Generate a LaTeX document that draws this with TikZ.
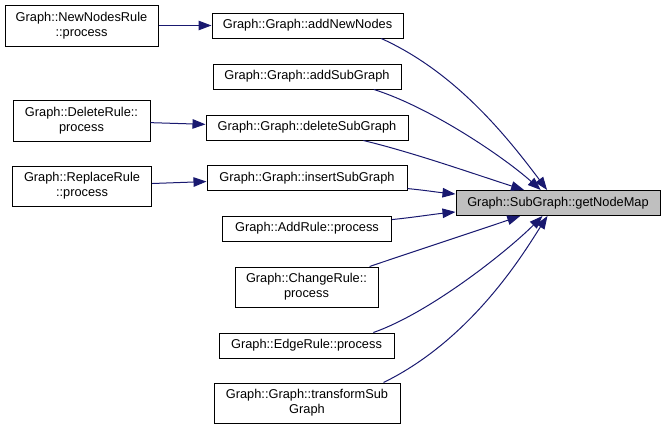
\documentclass[tikz,border=0pt]{standalone}
\usepackage{fontspec}
\setmainfont{Liberation Sans}
\usepackage{tikz}
\usetikzlibrary{arrows.meta}
\definecolor{edgeBlue}{HTML}{191970}
\definecolor{targetGray}{HTML}{BFBFBF}

\begin{document}
\begin{tikzpicture}[
    x=1pt, y=-1pt,
    fn/.style={rectangle, draw=black, line width=1pt, fill=white, align=center, inner sep=0pt, minimum height=25pt, font=\fontsize{12.8}{15}\selectfont},
    target/.style={fn, fill=targetGray},
    call/.style={-{Triangle[length=13pt, width=9.5pt]}, line width=1pt, edgeBlue}
]
\useasboundingbox (0,0) rectangle (665,431);

% Called function
\node[target, minimum width=204pt] (getmap) at (558,203) {Graph::SubGraph::getNodeMap};

% Direct callers
\node[fn, minimum width=191pt] (addnew) at (307.5,25.5) {Graph::Graph::addNewNodes};
\node[fn, minimum width=188pt] (addsub) at (307,76.5) {Graph::Graph::addSubGraph};
\node[fn, minimum width=202pt] (delsub) at (307,127.5) {Graph::Graph::deleteSubGraph};
\node[fn, minimum width=200pt] (inssub) at (307,178) {Graph::Graph::insertSubGraph};
\node[fn, minimum width=169pt] (addrule) at (307,228.5) {Graph::AddRule::process};
\node[fn, minimum width=143pt, minimum height=40pt] (changerule) at (306.5,287) {Graph::ChangeRule::\\process};
\node[fn, minimum width=175pt] (edgerule) at (306.5,345.5) {Graph::EdgeRule::process};
\node[fn, minimum width=186pt, minimum height=40pt] (transform) at (307,403) {Graph::Graph::transformSub\\Graph};

% Second level callers
\node[fn, minimum width=153pt, minimum height=41pt] (newnodes) at (81.5,25.5) {Graph::NewNodesRule\\::process};
\node[fn, minimum width=137pt, minimum height=41pt] (delrule) at (81.5,120.5) {Graph::DeleteRule::\\process};
\node[fn, minimum width=139pt, minimum height=40pt] (replrule) at (82,186) {Graph::ReplaceRule\\::process};

% Arrows
\draw[call] (newnodes) -- (addnew);
\draw[call] (delrule) -- (delsub);
\draw[call] (replrule) -- (inssub);
\draw[call] (addnew.-10) .. controls +(73,33) and +(-42,-56) .. (getmap.130);
\draw[call] (addsub.-11) .. controls +(57,18) and +(-37,-33) .. (getmap.143);
\draw[call] (delsub.-13) .. controls +(50,12) and +(-50,-16) .. (getmap.159);
\draw[call] (inssub.-6) .. controls +(20,2) and +(-20,-2) .. (getmap.175);
\draw[call] (addrule.6) .. controls +(20,-2) and +(-20,2) .. (getmap.185);
\draw[call] (changerule.18) .. controls +(50,-17) and +(-50,17) .. (getmap.199);
\draw[call] (edgerule.11) .. controls +(57,-20) and +(-35,35) .. (getmap.220);
\draw[call] (transform.15) .. controls +(90,-44) and +(-22,34) .. (getmap.231);

\end{tikzpicture}
\end{document}
